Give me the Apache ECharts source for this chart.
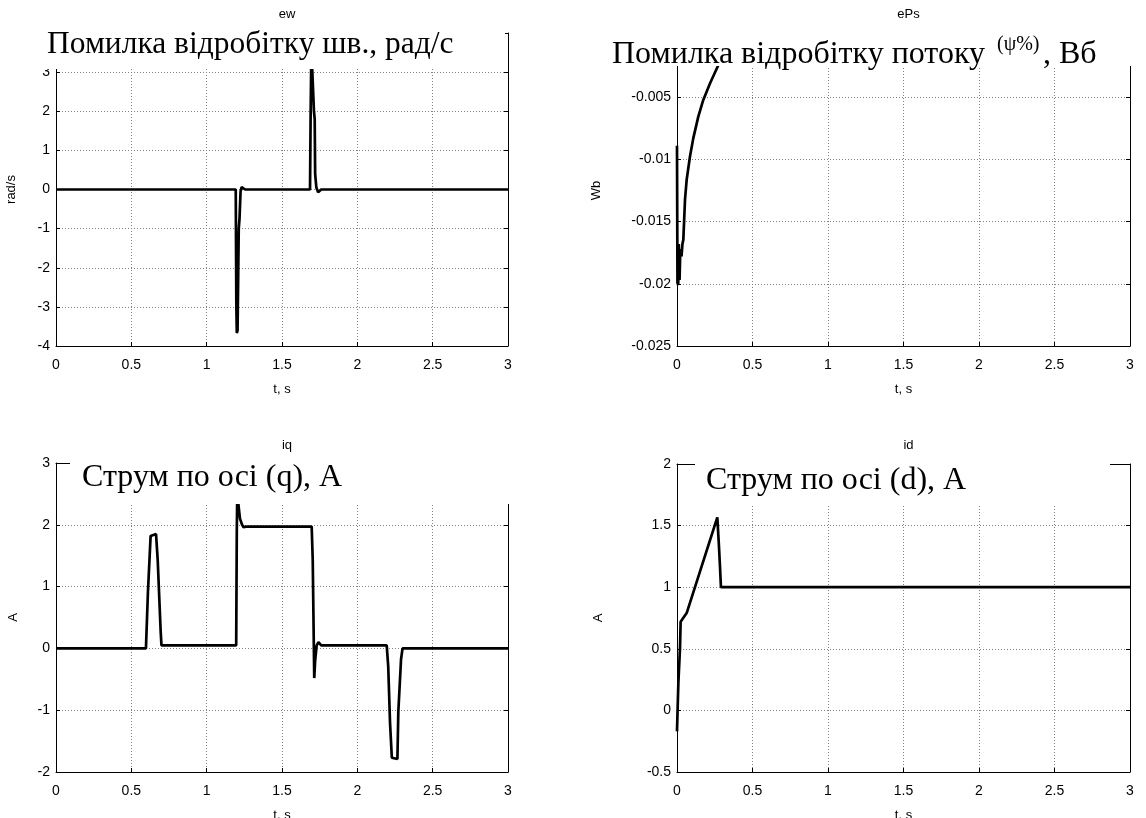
<!DOCTYPE html>
<html>
<head>
<meta charset="utf-8">
<script src="https://cdn.jsdelivr.net/npm/echarts@6/dist/echarts.min.js"></script>
<style>
  html, body { margin: 0; padding: 0; background: #fff; }
  #chart { width: 1146px; height: 818px; }
</style>
</head>
<body>
<div id="chart"></div>
<script>
// Speed tracking error, rad/s
const ewT = [0, 1.193, 1.197, 1.2, 1.205, 1.213, 1.218, 1.225, 1.232, 1.245, 1.255, 1.686, 1.69, 1.695, 1.705, 1.712, 1.717, 1.72, 1.728, 1.74, 1.76, 3];
const ewV = [0, 0, -3.0, -3.67, -3.6, -1.0, -0.75, -0.05, 0.06, 0.05, 0, 0, 1.9, 3.6, 3.6, 2.0, 1.8, 0.4, 0.05, -0.07, 0, 0];

// Flux tracking error, Wb
const ePsT = [0, 0.003, 0.008, 0.012, 0.017, 0.022, 0.03, 0.036, 0.042, 0.053, 0.064, 0.086, 0.108, 0.141, 0.174, 0.219, 0.274, 0.35, 0.5, 0.8, 1.2, 3];
const ePsV = [-0.0089, -0.0199, -0.0201, -0.0168, -0.0197, -0.0172, -0.0178, -0.0168, -0.01645, -0.01324, -0.01164, -0.00977, -0.00829, -0.00656, -0.00522, -0.00388, -0.00241, -0.0014, -0.0005, -0.0001, 0, 0];

// q-axis current, A
const iqT = [0, 0.597, 0.61, 0.628, 0.64, 0.664, 0.675, 0.695, 0.70, 1.196, 1.2, 1.203, 1.21, 1.221, 1.235, 1.245, 1.26, 1.697, 1.704, 1.714, 1.72, 1.73, 1.742, 1.76, 2.195, 2.205, 2.217, 2.229, 2.266, 2.272, 2.29, 2.3, 3];
const iqV = [0, 0, 0.9, 1.82, 1.85, 1.85, 1.43, 0.26, 0.05, 0.05, 1.9, 2.5, 2.5, 2.1, 2.0, 1.96, 1.97, 1.97, 1.43, -0.48, -0.2, 0.05, 0.1, 0.05, 0.05, -0.29, -1.2, -1.77, -1.79, -1.03, -0.18, 0, 0];

// d-axis current, A
const idT = [0, 0.005, 0.009, 0.02, 0.024, 0.064, 0.267, 0.278, 0.285, 0.291, 3];
const idV = [-0.17, 0.05, 0.22, 0.51, 0.72, 0.79, 1.567, 1.33, 1.16, 1.0, 1.0];

// Axis ranges and tick steps
const xRange = { min: 0, max: 3, interval: 0.5 };
const yRanges = [
  { min: -4, max: 4, interval: 1 },
  { min: -0.025, max: 0, interval: 0.005 },
  { min: -2, max: 3, interval: 1 },
  { min: -0.5, max: 2, interval: 0.5 }
];
const plotNames = ['ew', 'ePs', 'iq', 'id'];
const yNames = ['rad/s', 'Wb', 'A', 'A'];
const xName = 't, s';

const pair = (t, v) => t.map((x, i) => [x, v[i]]);
const seriesData = [pair(ewT, ewV), pair(ePsT, ePsV), pair(iqT, iqV), pair(idT, idV)];

const grids = [
  { left: 56, top: 33, width: 452, height: 313 },
  { left: 677, top: 35, width: 453, height: 311 },
  { left: 56, top: 463, width: 452, height: 309 },
  { left: 677, top: 464, width: 453, height: 308 }
].map(g => ({ ...g, containLabel: false, outerBoundsMode: 'none' }));
const yNameGaps = [38, 74, 36, 72];

const FONT = 'Liberation Sans, Arial, sans-serif';
const SERIF = 'Liberation Serif, Times New Roman, serif';
const gridLine = { show: true, lineStyle: { color: '#808080', type: [1, 2], width: 1 } };
const line = { show: true, onZero: false, lineStyle: { color: '#000', width: 1 } };
const tick = { show: true, inside: true, length: 4, lineStyle: { color: '#000' } };

const xAxis = [], yAxis = [], series = [], title = [];
grids.forEach((g, i) => {
  xAxis.push({
    type: 'value', gridIndex: i, position: 'bottom', ...xRange,
    name: xName, nameLocation: 'middle', nameGap: 37,
    nameTextStyle: { fontFamily: FONT, fontSize: 13, color: '#000' },
    axisLine: line, axisTick: tick, splitLine: gridLine,
    axisLabel: { fontFamily: FONT, fontSize: 14, color: '#000', margin: 12 }
  });
  xAxis.push({
    type: 'value', gridIndex: i, position: 'top', ...xRange,
    axisLine: line, axisTick: tick, splitLine: { show: false }, axisLabel: { show: false }
  });
  yAxis.push({
    type: 'value', gridIndex: i, position: 'left', ...yRanges[i],
    name: yNames[i], nameLocation: 'middle', nameGap: yNameGaps[i],
    nameTextStyle: { fontFamily: FONT, fontSize: 13, color: '#000' },
    axisLine: line, axisTick: tick, splitLine: gridLine,
    axisLabel: { fontFamily: FONT, fontSize: 14, color: '#000', margin: 6 }
  });
  yAxis.push({
    type: 'value', gridIndex: i, position: 'right', ...yRanges[i],
    axisLine: line, axisTick: tick, splitLine: { show: false }, axisLabel: { show: false }
  });
  series.push({
    type: 'line', xAxisIndex: 2 * i, yAxisIndex: 2 * i,
    data: seriesData[i], showSymbol: false, symbol: 'none',
    lineStyle: { color: '#000', width: 2.7 }, z: 3
  });
  title.push({
    text: plotNames[i],
    left: g.left + g.width / 2, top: i < 2 ? 3 : 434, textAlign: 'center',
    textStyle: { fontFamily: FONT, fontSize: 13, fontWeight: 'normal', color: '#000' }
  });
});

// White caption boxes laid over the top of each plot
const box = (x, y, w, h) => ({ type: 'rect', z: 100, shape: { x, y, width: w, height: h }, style: { fill: '#fff' } });
const caption = (x, y, text, size) => ({
  type: 'text', z: 101, x, y,
  style: { text, fontFamily: SERIF, fontSize: size || 32, fill: '#000', verticalAlign: 'middle', align: 'left' }
});

const graphic = [
  box(38, 24, 467, 45),
  caption(47, 45, 'Помилка відробітку шв., рад/с', 31.5),
  box(586, 26, 556, 40),
  caption(612, 55, 'Помилка відробітку потоку'),
  caption(997, 45, '(ψ%)', 20),
  caption(1043, 55, ', Вб'),
  box(70, 457, 442, 47),
  caption(82, 478, 'Струм по осі (q), А'),
  box(695, 458, 415, 47),
  caption(706, 481, 'Струм по осі (d), А')
];

const chart = echarts.init(document.getElementById('chart'), null, { renderer: 'canvas' });
chart.setOption({
  animation: false,
  backgroundColor: '#fff',
  title, grid: grids, xAxis, yAxis, series, graphic
});
</script>
</body>
</html>
